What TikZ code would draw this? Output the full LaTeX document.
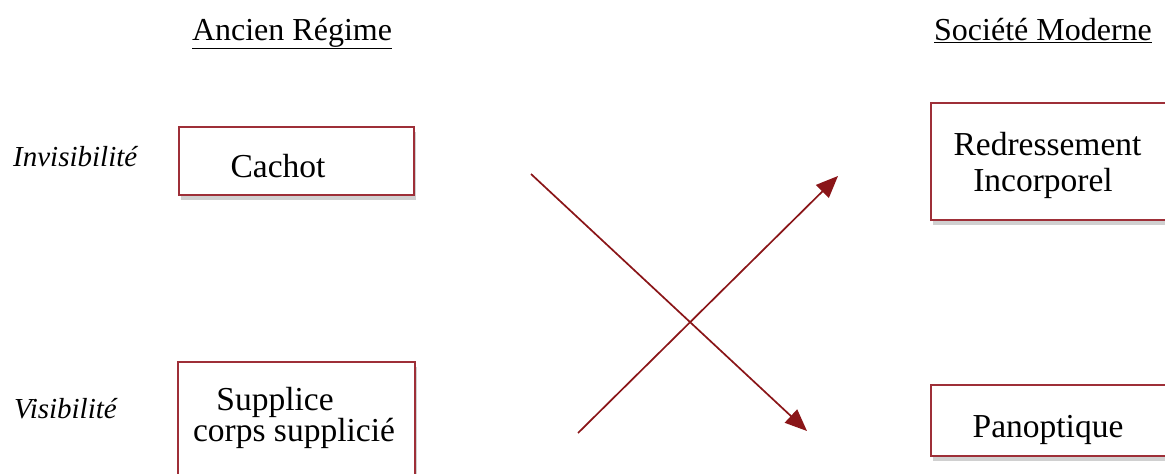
\documentclass[tikz,border=0pt]{standalone}
\usepackage{fontspec}
\setmainfont{Liberation Serif}
\usetikzlibrary{shadows,arrows.meta}
\definecolor{boxred}{HTML}{9E2F38}
\definecolor{arrred}{HTML}{8A1518}
\tikzset{
  box/.style={draw=boxred, line width=1.7pt, fill=white, rectangle,
    drop shadow={shadow xshift=2pt, shadow yshift=-5pt, opacity=0.3, fill=black!60}},
  txt/.style={anchor=base, inner sep=0pt, font=\fontsize{33.5}{38}\selectfont, text=black},
  lbl/.style={anchor=base west, inner sep=0pt, font=\fontsize{29}{33}\selectfont\itshape, text=black},
  title/.style={anchor=base, inner sep=0pt, font=\fontsize{32}{37}\selectfont, text=black},
  arr/.style={draw=arrred, line width=1.7pt, -{Triangle[length=22pt,width=18pt]}}
}
\begin{document}
\begin{tikzpicture}[x=1pt,y=-1pt]
\useasboundingbox (0,0) rectangle (1165,474);
\clip (0,0) rectangle (1165,474);
\fill[white] (0,0) rectangle (1165,474);
% titles
\node[title] (t1) at (292,40) {\underline{Ancien Régime}};
\node[title] (t2) at (1043,40) {\underline{Société Moderne}};
% row labels
\node[lbl] (l1) at (13,166) {Invisibilité};
\node[lbl] (l2) at (14,418) {Visibilité};
% boxes
\node[box, minimum width=235pt, minimum height=68pt] (b1) at (296.5,161) {};
\node[box, minimum width=237pt, minimum height=160pt] (b2) at (296.5,442) {};
\node[box, minimum width=280pt, minimum height=117pt] (b3) at (1071,161.5) {};
\node[box, minimum width=280pt, minimum height=71pt] (b4) at (1071,420.5) {};
% texts
\node[txt] (c1) at (278,177) {Cachot};
\node[txt] (c2) at (275,410) {Supplice};
\node[txt] (c3) at (294,441) {corps supplicié};
\node[txt] (c4) at (1047.5,155) {Redressement};
\node[txt] (c5) at (1043,191) {Incorporel};
\node[txt] (c6) at (1048,437) {Panoptique};
% arrows
\coordinate (a1s) at (531,174);
\coordinate (a1e) at (807,431);
\coordinate (a2s) at (578,433);
\coordinate (a2e) at (838,176);
\draw[arr] (a1s) -- (a1e);
\draw[arr] (a2s) -- (a2e);
\end{tikzpicture}
\end{document}
